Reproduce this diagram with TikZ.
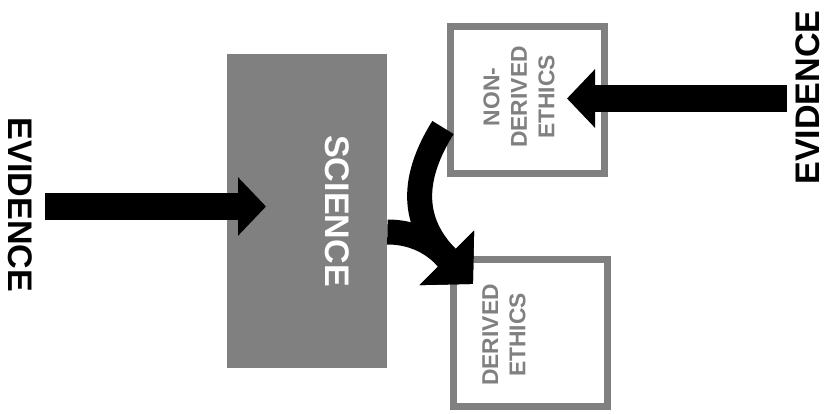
\documentclass[tikz,border=0pt]{standalone}
\usepackage{fontspec}
\setmainfont{Liberation Sans}
\usetikzlibrary{arrows.meta}
\definecolor{boxgray}{HTML}{808080}

\begin{document}
\begin{tikzpicture}[
    evlabel/.style={font=\bfseries\fontsize{19.4}{23}\selectfont, inner sep=0pt},
    ethbox/.style={rectangle, draw=boxgray, line width=0.14cm, fill=white, minimum width=3.08cm, minimum height=2.94cm},
    ethlabel/.style={text=boxgray, align=center, rotate=90, inner sep=0pt, font=\bfseries\fontsize{13}{15.6}\selectfont},
    fatarrow/.style={line width=0.54cm, -{Triangle[length=0.56cm, width=1.14cm]}},
    bentarrow/.style={line width=0.5cm, -{Triangle[length=0.74cm, width=1.5cm]}}
]
    \useasboundingbox (0,0) rectangle (16.5,-8.28);

    % Define nodes
    \node[rectangle, fill=boxgray, minimum width=3.2cm, minimum height=6.28cm, inner sep=0pt] (science) at (6.14,-4.22) {};
    \node[evlabel, text=white, rotate=-90] (scilabel) at (6.74,-4.22) {SCIENCE};

    \node[ethbox] (ndeth) at (10.55,-2.0) {};
    \node[ethlabel] (ndethlabel) at (10.38,-1.94) {NON-\\DERIVED\\ETHICS};

    \node[ethbox] (deth) at (10.6,-6.66) {};
    \node[ethlabel] (dethlabel) at (10.08,-6.7) {DERIVED\\ETHICS};

    \node[evlabel, rotate=-90] (evleft) at (0.40,-4.10) {EVIDENCE};
    \node[evlabel, rotate=90] (evright) at (16.15,-1.95) {EVIDENCE};

    \coordinate (evin) at (0.9,-4.13);
    \coordinate (sciin) at (5.32,-4.13);
    \coordinate (evout) at (15.74,-1.97);
    \coordinate (ndin) at (11.34,-1.97);
    \coordinate (join) at (9.46,-5.68);

    % Connect nodes with arrows
    \draw[fatarrow] (evin) -- (sciin);
    \draw[fatarrow] (evout) -- (ndin);

    \draw[bentarrow] ([yshift=-0.42cm]science.east) to[out=0, in=135] (join);
    \draw[bentarrow] ([shift={(-0.08,-0.55)}]ndeth.west) to[out=238, in=135, looseness=1.2] (join);
\end{tikzpicture}
\end{document}
